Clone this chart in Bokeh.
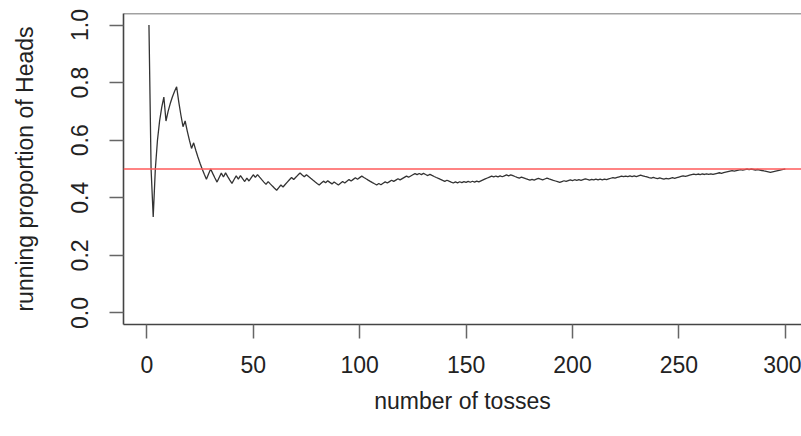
import numpy as np
from bokeh.plotting import figure
from bokeh.models import Range1d, FixedTicker, Span, ColumnDataSource, PrintfTickFormatter
from bokeh.embed import file_html
from bokeh.resources import INLINE

# Toss outcomes (H = head, T = tail), 10 per row
tosses = [
    "HTTHHHHHTH", "HHHHTTTHTT", "THTTTTTTHH", "TTTHHTHTTT", "HHTHTTHTHH",
    "THTTTTHTTT", "THHTHHHHTH", "HHTTHTTTTT", "THHTHTTHTT", "HHTHHTHHTH",
    "HTTTTTTTHT", "HHTHHTHHTH", "HHTHHHTHTH", "TTHTTTTTTT", "HTTTHTHTHT",
    "HTHTHTHHHH", "HHTHTHTHHT", "HTTTTHTTTT", "HTHHTTHHTT", "TTTTHHTHHT",
    "HTHTHHTTHT", "HTHTHTHHHT", "HHHTHTHTHT", "HHTTTTTHTT", "HTTHTHHTHH",
    "HHTHHHHTHT", "HTHTHTHHHT", "HHHHHTHHHT", "HHTHTTHTTT", "TTTHHHHHHH",
]
x_ticks = [0, 50, 100, 150, 200, 250, 300]
y_ticks = [0.0, 0.2, 0.4, 0.6, 0.8, 1.0]
reference_level = 0.5

outcomes = np.array([1 if c == "H" else 0 for c in "".join(tosses)])
n = np.arange(1, len(outcomes) + 1)
running = np.cumsum(outcomes) / n
src = ColumnDataSource(dict(n=n, prop=running))

FONT = "Liberation Sans"
FS = "23px"
TXT = "#222222"
AX = "#444444"

p = figure(width=801, height=436, output_backend="svg", toolbar_location=None,
           x_range=Range1d(-10.96, 307.6), y_range=Range1d(-0.04, 1.04),
           min_border_left=123, min_border_right=0, min_border_top=13, min_border_bottom=112)
p.outline_line_color = None
p.grid.visible = False
p.background_fill_color = "white"
p.border_fill_color = "white"

for ax in (p.xaxis[0], p.yaxis[0]):
    ax.minor_tick_line_color = None
    ax.major_tick_in = 0
    ax.major_tick_out = 14
    ax.major_tick_line_color = "#666666"
    ax.major_tick_line_width = 1.5
    ax.axis_line_color = AX
    ax.axis_line_width = 1.6
    ax.major_label_text_font = FONT
    ax.major_label_text_font_size = FS
    ax.major_label_text_color = TXT
    ax.axis_label_text_font = FONT
    ax.axis_label_text_font_size = FS
    ax.axis_label_text_font_style = "normal"
    ax.axis_label_text_color = TXT

p.xaxis.ticker = FixedTicker(ticks=x_ticks)
p.xaxis.axis_label = "number of tosses"
p.xaxis.major_label_standoff = 17
p.xaxis.axis_label_standoff = 12

p.yaxis.ticker = FixedTicker(ticks=y_ticks)
p.yaxis.formatter = PrintfTickFormatter(format="%.1f")
p.yaxis.major_label_orientation = "vertical"
p.yaxis.axis_label = "running proportion of Heads"
p.yaxis.major_label_standoff = 21
p.yaxis.axis_label_standoff = 31

# top side of the box
p.add_layout(Span(location=1.04, dimension="width", line_color=AX, line_width=1.6))

p.line("n", "prop", source=src, line_color="#333333", line_width=1.3)
p.add_layout(Span(location=reference_level, dimension="width", line_color="#ff5a5a", line_width=1.6))

open("out.html", "w").write(file_html(p, INLINE))
